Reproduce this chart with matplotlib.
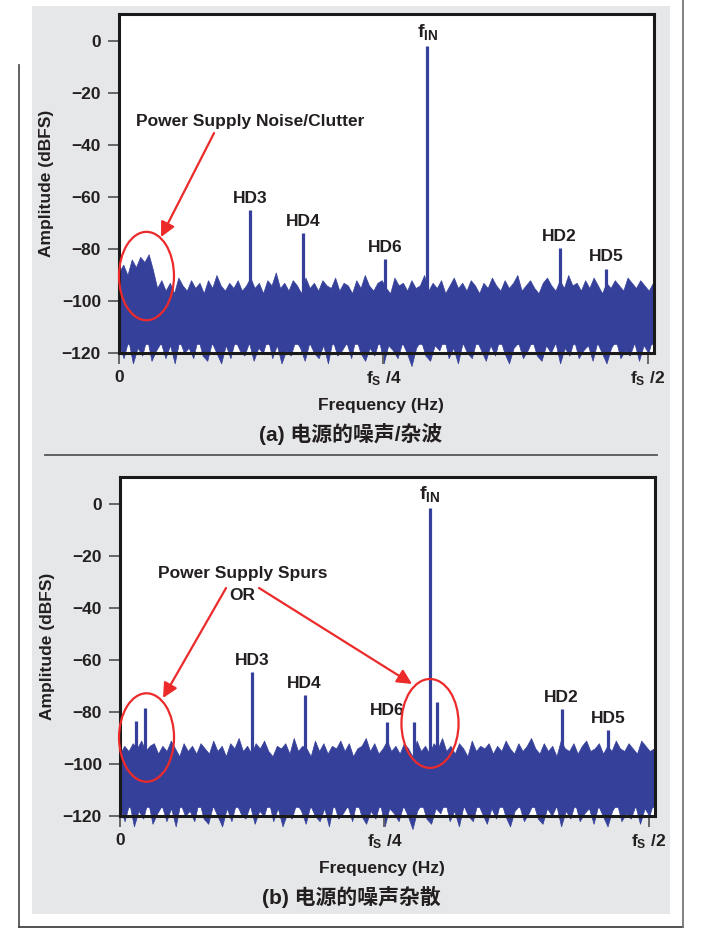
import numpy as np
import matplotlib
matplotlib.use("Agg")
import matplotlib.pyplot as plt
from matplotlib.patches import Ellipse, Rectangle
from matplotlib.lines import Line2D

plt.rcParams['font.family'] = ['Liberation Sans', 'Noto Sans CJK SC', 'DejaVu Sans']
plt.rcParams['font.weight'] = 'bold'
plt.rcParams['mathtext.fontset'] = 'custom'
plt.rcParams['mathtext.rm'] = 'Liberation Sans:bold'
plt.rcParams['mathtext.it'] = 'Liberation Sans:bold'
plt.rcParams['mathtext.bf'] = 'Liberation Sans:bold'

BLUE = '#35409a'
RED = '#ec2a2a'
INK = '#231f20'

# frequency as fraction of fs, amplitude in dBFS
# --- panel (a): power supply noise / clutter
a_spike_names = ['HD3', 'HD4', 'HD6', '$f_{IN}$', 'HD2', 'HD5']
a_spike_freq = [0.124, 0.174, 0.252, 0.2915, 0.4167, 0.461]
a_spike_db = [-65, -74, -84, -2, -79.5, -87.5]

a_noise_top = [-89, -86, -90, -84, -87, -83, -85, -82, -88,
               -95, -92, -96, -93, -97, -91, -94, -96, -92, -95,
               -93, -97, -92, -95, -90, -94, -96, -93, -95, -92,
               -96, -94, -91, -95, -93, -97, -92, -94, -89, -95,
               -93, -96, -92, -94, -97, -91, -95, -93, -96, -92,
               -94, -95, -91, -96, -93, -94, -97, -92, -95, -90,
               -94, -96, -93, -92, -95, -97, -91, -94, -93, -96,
               -92, -95, -94, -90, -96, -93, -95, -92, -97, -94,
               -91, -95, -93, -96, -92, -94, -97, -93, -95, -91,
               -94, -96, -92, -95, -93, -90, -96, -94, -92, -95,
               -97, -93, -91, -94, -96, -92, -95, -90, -94, -93,
               -96, -92, -95, -91, -94, -97, -93, -95, -92, -94,
               -96, -91, -93, -95, -92, -94, -96, -93]

# --- panel (b): power supply spurs
b_spike_names = ['', '', 'HD3', 'HD4', 'HD6', '', '$f_{IN}$', '', 'HD2', 'HD5']
b_spike_freq = [0.0155, 0.0237, 0.125, 0.1745, 0.2528, 0.2784, 0.293, 0.2995, 0.4176, 0.4618]
b_spike_db = [-83.5, -78.5, -64.5, -73.5, -84, -84, -1.5, -76, -79, -87]

b_noise_top = [-96, -93, -95, -92, -94, -91, -95, -93, -92,
               -96, -93, -95, -91, -94, -97, -92, -95, -93, -96,
               -92, -94, -96, -91, -95, -93, -97, -92, -94, -90,
               -95, -93, -96, -92, -94, -91, -95, -97, -93, -94,
               -92, -96, -90, -95, -93, -94, -97, -91, -95, -92,
               -96, -93, -94, -91, -95, -92, -97, -94, -93, -90,
               -95, -92, -96, -94, -91, -95, -93, -96, -92, -94,
               -97, -91, -95, -93, -96, -92, -94, -90, -95, -93,
               -96, -92, -94, -97, -91, -95, -93, -94, -92, -96,
               -93, -95, -91, -94, -96, -92, -95, -93, -90, -94,
               -96, -92, -95, -93, -97, -91, -94, -95, -92, -96,
               -93, -91, -95, -94, -92, -96, -93, -95, -91, -94,
               -95, -92, -94, -96, -91, -93, -95, -94]

# ragged lower edge of the noise floor (runs below the axis)
noise_bottom = [-117, -122, -115, -124, -118, -121, -114, -123, -119, -116, -122, -117,
                -124, -115, -120, -118, -122, -114, -121, -123, -116, -120, -124, -117,
                -122, -115, -119, -121, -116, -123, -118, -120, -114, -122, -117, -124,
                -119, -121, -115, -118, -123, -116, -120, -122, -117, -124, -115, -121,
                -119, -116, -122, -114, -120, -123, -118, -121, -115, -124, -117, -119,
                -122, -116, -120, -125, -118, -115, -121, -123, -117, -119, -114, -122,
                -118, -124, -116, -120, -122, -115, -119, -123, -117, -121, -114, -120,
                -124, -118, -116, -122, -119, -115, -121, -123, -117, -120, -116, -124,
                -118, -121, -115, -122, -119, -117, -123, -116, -120, -124, -118, -115,
                -122, -119, -121, -116, -123, -117, -120, -114]

yticks = [0, -20, -40, -60, -80, -100, -120]
xticks = [0, 0.25, 0.5]
xticklabels = ['0', '$f_S$ /4', '$f_S$ /2']

W, H = 718, 935
fig = plt.figure(figsize=(W / 100, H / 100), dpi=100)
fig.patch.set_facecolor('white')


def px(x, y):
    return x / W, 1 - y / H


# page frame
fig.add_artist(Rectangle(px(32, 914), (670 - 32) / W, (914 - 6) / H,
                         transform=fig.transFigure, facecolor='#e6e7e8',
                         edgecolor='none', zorder=-5))
frame_lines = [((19, 19), (65, 927), '#555555'), ((19, 683), (927, 927), '#444444'),
               ((683, 683), (0, 927), '#777777'), ((45, 657), (455, 455), '#555555')]
for xs, ys, c in frame_lines:
    fig.add_artist(Line2D([x / W for x in xs], [1 - y / H for y in ys],
                          transform=fig.transFigure, color=c, lw=1.3))


def draw_panel(ax, noise_top, names, freqs, dbs, caption):
    ax.set_facecolor('white')
    f_top = np.linspace(0, 0.505, len(noise_top))
    f_bot = np.linspace(0, 0.505, len(noise_bottom))
    ax.fill_between(f_top, -116.5, noise_top, color=BLUE, lw=0.5, zorder=1)
    ax.fill_between(f_bot, noise_bottom, -116, color=BLUE, lw=0.5, zorder=1,
                    clip_on=False)
    ax.vlines(freqs, -116, dbs, color=BLUE, lw=2.3, zorder=2)
    for n, f, d in zip(names, freqs, dbs):
        if n:
            fs = 14 if n.startswith('$') else 12.5
            ax.annotate(n, (f, d), xytext=(0, 3), textcoords='offset points',
                        ha='center', va='bottom', fontsize=fs,
                        fontweight='bold', color=INK)
    ax.set_xlim(0, 0.506)
    ax.set_ylim(-120, 10.4)
    ax.set_yticks(yticks)
    ax.set_yticklabels([f'{v:d}'.replace('-', '\u2212') for v in yticks])
    ax.set_xticks(xticks)
    ax.set_xticklabels(xticklabels)
    ax.tick_params(axis='both', direction='out', length=8, width=1.4,
                   color='#666666', labelsize=12.5, labelcolor=INK)
    ax.tick_params(axis='y', pad=5)
    ax.tick_params(axis='x', pad=4)
    for lab in ax.get_xticklabels() + ax.get_yticklabels():
        lab.set_fontweight('bold')
    for s in ax.spines.values():
        s.set_linewidth(2.2)
        s.set_color('#1a1a1a')
    ax.set_ylabel('Amplitude (dBFS)', fontsize=12.5, fontweight='bold', color=INK)
    ax.yaxis.set_label_coords(-0.121, 0.5)
    ax.set_xlabel('Frequency (Hz)', fontsize=12.5, fontweight='bold', color=INK)
    ax.xaxis.set_label_coords(0.49, -0.134)
    ax.text(0.433, -0.24, caption, transform=ax.transAxes, ha='center',
            va='center', fontsize=15, fontweight='bold', color=INK,
            family=['Liberation Sans', 'Noto Sans CJK SC'])


def ring(ax, cx, cy, w, h):
    ax.add_patch(Ellipse((cx, cy), w, h, fill=False, edgecolor=RED, lw=1.6,
                         zorder=5, clip_on=False))


def arrow(ax, start, end):
    ax.annotate('', xy=end, xytext=start,
                arrowprops=dict(arrowstyle='-|>', color=RED, lw=1.6,
                                mutation_scale=22, shrinkA=0, shrinkB=0),
                zorder=6)


ax1 = fig.add_axes([119 / W, 1 - 353 / H, 535 / W, 339 / H])
draw_panel(ax1, a_noise_top, a_spike_names, a_spike_freq, a_spike_db,
           '(a) 电源的噪声/杂波')
ax1.text(0.0161, -30.8, 'Power Supply Noise/Clutter', ha='left', va='center',
         fontsize=12.5, fontweight='bold', color=INK)
ring(ax1, 0.026, -90.4, 0.052, 34)
arrow(ax1, (0.0899, -35.4), (0.0397, -75.4))

ax2 = fig.add_axes([120 / W, 1 - 816 / H, 535 / W, 339 / H])
draw_panel(ax2, b_noise_top, b_spike_names, b_spike_freq, b_spike_db,
           '(b) 电源的噪声杂散')
ax2.text(0.1159, -26.9, 'Power Supply Spurs', ha='center', va='center',
         fontsize=12.5, fontweight='bold', color=INK)
ax2.text(0.1154, -35, 'OR', ha='center', va='center',
         fontsize=12.5, fontweight='bold', color=INK)
ring(ax2, 0.0251, -89.8, 0.052, 34)
ring(ax2, 0.2932, -84.4, 0.054, 34.2)
arrow(ax2, (0.1003, -32.3), (0.0407, -74.6))
arrow(ax2, (0.1315, -32.3), (0.2762, -69.2))

fig.savefig('out.png', dpi=100)
